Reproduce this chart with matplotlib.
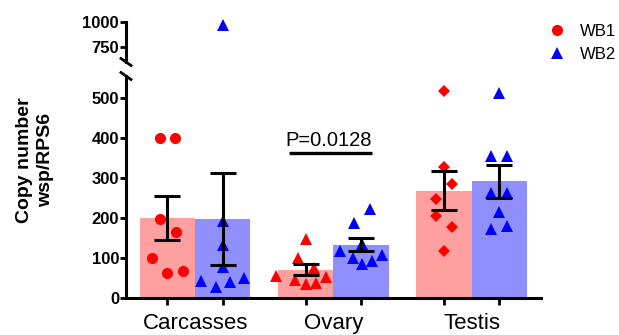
import matplotlib
matplotlib.use("Agg")
import matplotlib.pyplot as plt
from matplotlib.lines import Line2D
import numpy as np

plt.rcParams["font.family"] = ["Liberation Sans", "DejaVu Sans"]

# data (mean +/- SEM, individual samples)
groups = ["Carcasses", "Ovary", "Testis"]
series = ["WB1", "WB2"]
wb1_mean = [200, 71, 268]
wb1_sem = [55.5, 14, 49]
wb2_mean = [198, 133.5, 291.5]
wb2_sem = [115.5, 16.5, 40.5]

wb1_points = [
    [400, 400, 198, 165, 101, 63, 68],
    [147, 101, 74, 56, 45, 52, 34, 37],
    [518, 328, 285, 247, 206, 177, 118],
]
wb2_points = [
    [975, 192, 132, 77, 43, 28, 40, 51],
    [222, 188, 134, 117, 101, 107, 84, 92],
    [513, 355, 355, 263, 263, 216, 172, 180],
]
p_text = "P=0.0128"
p_level = 362

# horizontal scatter offsets (pixels from bar centre), layout only
wb1_jitter = [
    [-7.5, 8, -7.5, 8.5, -15.5, 0, 15.5],
    [0, -8, 8, -29.5, -11, 20, 0, 10.5],
    [0, 0, 7.5, -8.5, -8.5, 7.5, 0],
]
wb2_jitter = [
    [0, 0, 0, 0, -21.5, -7, 7.5, 21.5],
    [8.5, -7.5, 1, -21.5, -8, 20.5, 1, 11],
    [0, -8, 8, -8, 8, 0, -8, 8],
]
wb1_markers = ["o", "^", "D"]
wb2_markers = ["^", "^", "^"]

W, H = 619, 335
fig = plt.figure(figsize=(W / 100, H / 100), dpi=100)
left, right = 126, 541
ax = fig.add_axes([left / W, 1 - 298 / H, (right - left) / W, (298 - 76) / H])
ax_top = fig.add_axes([left / W, 1 - 62 / H, (right - left) / W, (62 - 22) / H])
ax.set_ylim(0, 555)
ax_top.set_ylim(600, 1000)

px_per_unit = (right - left) / 3.0
bw = 0.4
x = np.arange(len(groups))
bar_red, bar_blue = "#ffa0a0", "#8f8fff"
red, blue = "#ff0000", "#0000ff"

for a in (ax, ax_top):
    lo, hi = a.get_ylim()
    a.bar(x - bw / 2, wb1_mean, bw, color=bar_red, zorder=1)
    a.bar(x + bw / 2, wb2_mean, bw, color=bar_blue, zorder=1)
    for i in range(len(groups)):
        for pts, jit, xc, col, mk in (
            (wb1_points[i], wb1_jitter[i], x[i] - bw / 2, red, wb1_markers[i]),
            (wb2_points[i], wb2_jitter[i], x[i] + bw / 2, blue, wb2_markers[i]),
        ):
            pts = np.array(pts, dtype=float)
            xs = xc + np.array(jit) / px_per_unit
            keep = (pts >= lo) & (pts <= hi)
            ms = 6 if mk == "D" else 8
            a.plot(xs[keep], pts[keep], linestyle="none", marker=mk, color=col,
                   markersize=ms, markeredgewidth=0, zorder=3, clip_on=False)
    a.errorbar(x - bw / 2, wb1_mean, yerr=wb1_sem, fmt="none", ecolor="black",
               elinewidth=2.2, capsize=9.5, capthick=2.2, zorder=4)
    a.errorbar(x + bw / 2, wb2_mean, yerr=wb2_sem, fmt="none", ecolor="black",
               elinewidth=2.2, capsize=9.5, capthick=2.2, zorder=4)
    a.set_xlim(-0.5, 2.5)
    a.set_ylim(lo, hi)
    for s in ("top", "right"):
        a.spines[s].set_visible(False)
    a.spines["left"].set_linewidth(2.2)
    a.spines["bottom"].set_linewidth(2.2)
    a.tick_params(axis="y", width=2, length=4, labelsize=12, pad=1)

ax.set_yticks([0, 100, 200, 300, 400, 500])
ax_top.set_yticks([750, 1000])
for a in (ax, ax_top):
    for lbl in a.get_yticklabels():
        lbl.set_fontweight("bold")

ax_top.spines["bottom"].set_visible(False)
ax_top.set_xticks([])

ax.set_xticks(x)
ax.set_xticklabels(groups, fontsize=16)
ax.tick_params(axis="x", length=0, pad=11)
ax.set_xticks(np.concatenate([x - bw / 2, x + bw / 2]), minor=True)
ax.tick_params(axis="x", which="minor", length=5, width=2)

# break marks on the y axis
for yy in (1 - 62 / H, 1 - 76 / H):
    fig.add_artist(Line2D([(left - 5) / W, (left + 5) / W],
                          [yy + 3.5 / H, yy - 3.5 / H],
                          color="black", linewidth=2, transform=fig.transFigure))

# significance annotation
ax.plot([0.68, 1.28], [p_level, p_level], color="black", linewidth=2.4,
        solid_capstyle="butt", zorder=5)
ax.text(0.965, p_level + 7, p_text, ha="center", va="bottom", fontsize=14.5)

fig.text(35 / W, 1 - 160 / H, "Copy number\nwsp/RPS6", rotation=90,
         ha="center", va="center", fontsize=14, fontweight="bold",
         linespacing=1.3)

handles = [
    Line2D([], [], linestyle="none", marker="o", color=red, markersize=8,
           markeredgewidth=0, label=series[0]),
    Line2D([], [], linestyle="none", marker="^", color=blue, markersize=8,
           markeredgewidth=0, label=series[1]),
]
fig.legend(handles=handles, loc="upper left", bbox_to_anchor=(549 / W, 1 - 24 / H),
           frameon=False, fontsize=12, handlelength=1, handletextpad=0.85,
           labelspacing=0.5, borderpad=0, borderaxespad=0)

fig.savefig("out.png", dpi=100)
